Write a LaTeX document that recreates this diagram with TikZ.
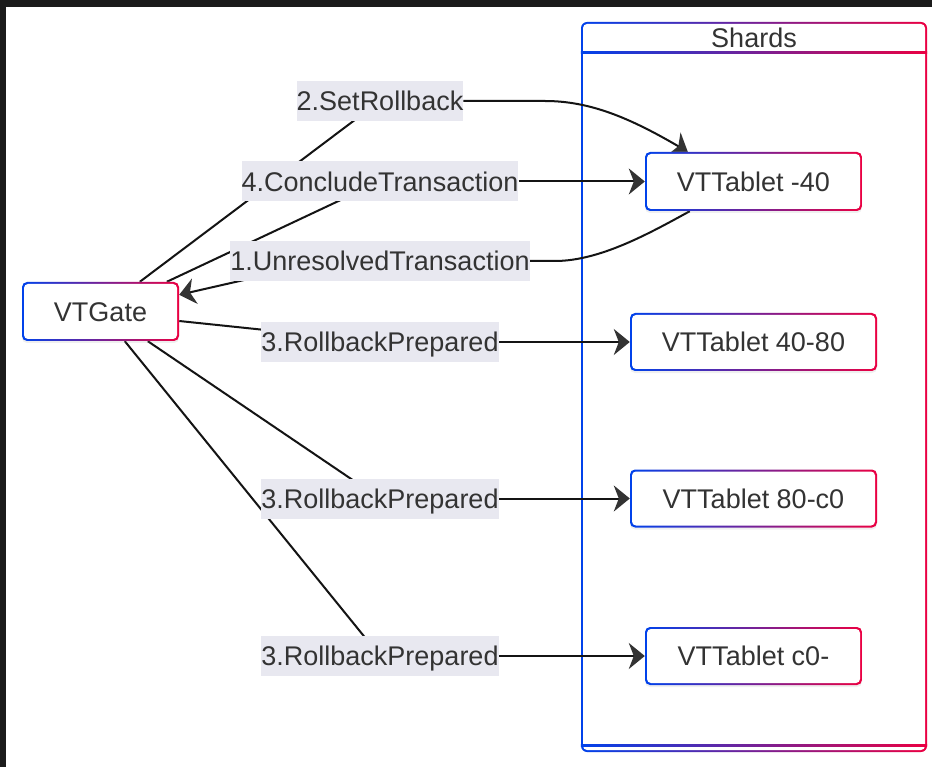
\documentclass[tikz,border=0pt]{standalone}
\usepackage{fontspec}
\setmainfont{Liberation Sans}
\usetikzlibrary{arrows.meta,calc,shadows}
\definecolor{gblue}{RGB}{0,66,235}
\definecolor{gred}{RGB}{235,0,66}
\definecolor{txt}{RGB}{51,51,51}
\definecolor{lblbg}{RGB}{232,232,240}
\definecolor{darkframe}{RGB}{27,27,27}
\definecolor{edgecol}{RGB}{20,20,20}
\pgfdeclarelayer{canvas}
\pgfdeclarelayer{back}
\pgfdeclarelayer{edges}
\pgfsetlayers{canvas,back,edges,main}
\tikzset{
  gradborder/.style={fill=white,
    path picture={
      \shade[left color=gblue,right color=gred]
        (path picture bounding box.south west) rectangle (path picture bounding box.north east);
      \fill[white,rounded corners=4pt]
        ($(path picture bounding box.south west)+(2pt,2pt)$) rectangle
        ($(path picture bounding box.north east)+(-2pt,-2pt)$);}},
  tablet/.style={gradborder, rounded corners=5pt, minimum height=59pt, inner sep=0pt,
    text=txt, font=\fontsize{27}{32}\selectfont, text height=19.5pt, text depth=0pt,
    drop shadow={shadow xshift=0pt, shadow yshift=-2pt, opacity=0.12}},
  cluster/.style={gradborder, rounded corners=6pt, inner sep=0pt},
  elabel/.style={fill=lblbg, text=txt, font=\fontsize{27}{32}\selectfont,
    text height=19.5pt, text depth=0pt,
    inner xsep=0pt, inner ysep=0pt, minimum height=40pt},
  titletext/.style={text=txt, font=\fontsize{27}{32}\selectfont, inner sep=0pt,
    text height=19.5pt, text depth=0pt},
  conn/.style={draw=edgecol, line width=2pt},
  arr/.style={conn, -{Stealth[length=16pt,width=26pt,inset=5pt,fill=txt,color=txt]}}
}
\begin{document}
\begin{tikzpicture}[x=1pt,y=-1pt]
\useasboundingbox (0,0) rectangle (932,767);
\begin{pgfonlayer}{canvas}
\fill[white] (0,0) rectangle (932,767);
\fill[darkframe] (0,0) rectangle (932,7);
\fill[darkframe] (0,0) rectangle (6,767);
\end{pgfonlayer}

% cluster
\begin{pgfonlayer}{back}
\node[cluster, minimum width=346pt, minimum height=730pt] (shards) at (754,387) {};
\shade[left color=gblue,right color=gred]
  ($(shards.north west)+(0,-30pt)$) rectangle ($(shards.north east)+(0,-32pt)$);
\shade[left color=gblue,right color=gred]
  ($(shards.south west)+(0,6pt)$) rectangle ($(shards.south east)+(0,8pt)$);
\end{pgfonlayer}
\node[titletext] (shardstitle) at (754,38) {Shards};

% nodes
\node[tablet, minimum width=157pt] (gate) at (100.5,311.5) {VTGate};
\node[tablet, minimum width=217pt] (t1) at (753.5,181.5) {VTTablet -40};
\node[tablet, minimum width=247pt, minimum height=58pt] (t2) at (753.5,342) {VTTablet 40-80};
\node[tablet, minimum width=247pt, minimum height=58pt] (t3) at (753.5,498.5) {VTTablet 80-c0};
\node[tablet, minimum width=217pt, minimum height=58pt] (t4) at (753.5,656) {VTTablet c0-};

% edge labels
\node[elabel] (l2) at (380,101) {2.SetRollback};
\node[elabel] (l4) at (380,181.5) {4.ConcludeTransaction};
\node[elabel] (l1) at (380,261) {1.UnresolvedTransaction};
\node[elabel] (r1) at (380,342) {3.RollbackPrepared};
\node[elabel] (r2) at (380,498.5) {3.RollbackPrepared};
\node[elabel] (r3) at (380,656) {3.RollbackPrepared};

% connectors
\begin{pgfonlayer}{edges}
% 1. UnresolvedTransaction: VTTablet -40 -> VTGate
\draw[conn] ($(t1.south west)+(45pt,0)$) .. controls (650,233) and (600,261) .. (555,261) -- (l1.east);
\draw[arr] ($(l1.center)+(0,12pt)$) -- ($(gate.north east)+(0,-13pt)$);
% 2. SetRollback: VTGate -> VTTablet -40
\draw[conn] ($(gate.north west)+(118pt,0)$) -- (l2.center);
\draw[arr] (l2.east) -- (545,101) .. controls (590,101) and (630,118) .. ($(t1.north west)+(43pt,0)$);
% 4. ConcludeTransaction
\draw[conn] ($(gate.north west)+(145pt,0)$) -- (l4.center);
\draw[arr] (l4.east) -- (t1.west);
% 3. RollbackPrepared
\draw[conn] ($(gate.east)+(0,-9.5pt)$) -- (r1.center);
\draw[arr] (r1.east) -- (t2.west);
\draw[conn] ($(gate.south west)+(126pt,0)$) -- (r2.center);
\draw[arr] (r2.east) -- (t3.west);
\draw[conn] ($(gate.south west)+(103pt,0)$) -- (r3.center);
\draw[arr] (r3.east) -- (t4.west);
\end{pgfonlayer}
\end{tikzpicture}
\end{document}
